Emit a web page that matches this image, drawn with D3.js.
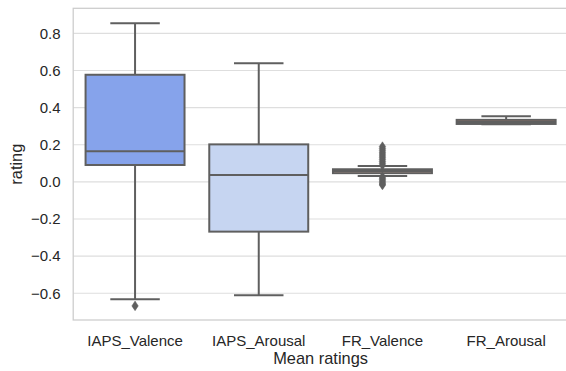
<!DOCTYPE html>
<html><head><meta charset="utf-8">
<script src="https://cdn.jsdelivr.net/npm/d3@7"></script>
<style>body{margin:0;background:#fff}svg{display:block}text{font-family:"Liberation Sans",Arial,sans-serif;fill:#262626}</style>
</head><body><svg id="c" width="566" height="371"></svg>
<script>
const categories = ["IAPS_Valence","IAPS_Arousal","FR_Valence","FR_Arousal"];
const whiskerLow = [-0.632, -0.611, 0.032, 0.310];
const q1 = [0.091, -0.268, 0.047, 0.312];
const median = [0.165, 0.037, 0.058, 0.322];
const q3 = [0.577, 0.202, 0.068, 0.334];
const whiskerHigh = [0.854, 0.639, 0.086, 0.354];
const outliers = [[-0.668], [], [0.19,0.18,0.17,0.16,0.15,0.14,0.13,0.12,0.11,0.10,0.09,0.028,0.02,0.012,0.004,-0.005,-0.012,-0.017], []];
const fills = ["#86a3eb","#c6d5f1","#eebfa8","#d98672"];
const yTicks = [-0.6,-0.4,-0.2,0.0,0.2,0.4,0.6,0.8];

const svg = d3.select("#c");
const L=73.2, R=568, T=8.3, B=320;
const x = d3.scaleBand().domain(categories).range([L,R]).paddingInner(0).paddingOuter(0);
const y = d3.scaleLinear().domain([-0.744,0.935]).range([B,T]);
const edge="#5f5f5f";

// grid
svg.append("g").selectAll("line").data(yTicks).join("line")
  .attr("x1",L).attr("x2",R).attr("y1",d=>y(d)).attr("y2",d=>y(d))
  .attr("stroke","#dedede").attr("stroke-width",1.1);
// spines
svg.append("rect").attr("x",L).attr("y",T).attr("width",R-L).attr("height",B-T)
  .attr("fill","none").attr("stroke","#cccccc").attr("stroke-width",1.25);

// y tick labels
svg.append("g").selectAll("text").data(yTicks).join("text")
  .attr("x",60.5).attr("y",d=>y(d)).attr("dy","0.35em").attr("text-anchor","end")
  .attr("font-size",15).text(d=>d3.format(".1f")(d).replace("-","\u2212"));
// x tick labels
svg.append("g").selectAll("text").data(categories).join("text")
  .attr("x",d=>x(d)+x.bandwidth()/2).attr("y",345.5).attr("text-anchor","middle")
  .attr("font-size",15).text(d=>d);
svg.append("text").attr("x",(L+R)/2).attr("y",364).attr("text-anchor","middle").attr("font-size",16.4).text("Mean ratings");
svg.append("text").attr("transform",`translate(22,${(T+B)/2}) rotate(-90)`).attr("text-anchor","middle").attr("font-size",16.4).text("rating");

const bw = x.bandwidth()*0.8;
const g = svg.append("g");
categories.forEach((c,i)=>{
  const cx = x(c)+x.bandwidth()/2;
  const gg = g.append("g");
  // whiskers
  gg.append("line").attr("x1",cx).attr("x2",cx).attr("y1",y(q3[i])).attr("y2",y(whiskerHigh[i])).attr("stroke",edge).attr("stroke-width",2);
  gg.append("line").attr("x1",cx).attr("x2",cx).attr("y1",y(q1[i])).attr("y2",y(whiskerLow[i])).attr("stroke",edge).attr("stroke-width",2);
  [whiskerLow[i],whiskerHigh[i]].forEach(v=>{
    gg.append("line").attr("x1",cx-bw/4).attr("x2",cx+bw/4).attr("y1",y(v)).attr("y2",y(v)).attr("stroke",edge).attr("stroke-width",2);
  });
  gg.append("rect").attr("x",cx-bw/2).attr("width",bw).attr("y",y(q3[i])).attr("height",Math.max(0.1,y(q1[i])-y(q3[i])))
    .attr("fill",fills[i]).attr("stroke",edge).attr("stroke-width",2);
  gg.append("line").attr("x1",cx-bw/2).attr("x2",cx+bw/2).attr("y1",y(median[i])).attr("y2",y(median[i])).attr("stroke",edge).attr("stroke-width",2);
  gg.selectAll("path.o").data(outliers[i]).join("path")
    .attr("d",d=>{const py=y(d);return `M${cx},${py-4.8}L${cx+3.2},${py}L${cx},${py+4.8}L${cx-3.2},${py}Z`;})
    .attr("fill",edge).attr("stroke",edge).attr("stroke-width",0.5);
});
</script></body></html>
